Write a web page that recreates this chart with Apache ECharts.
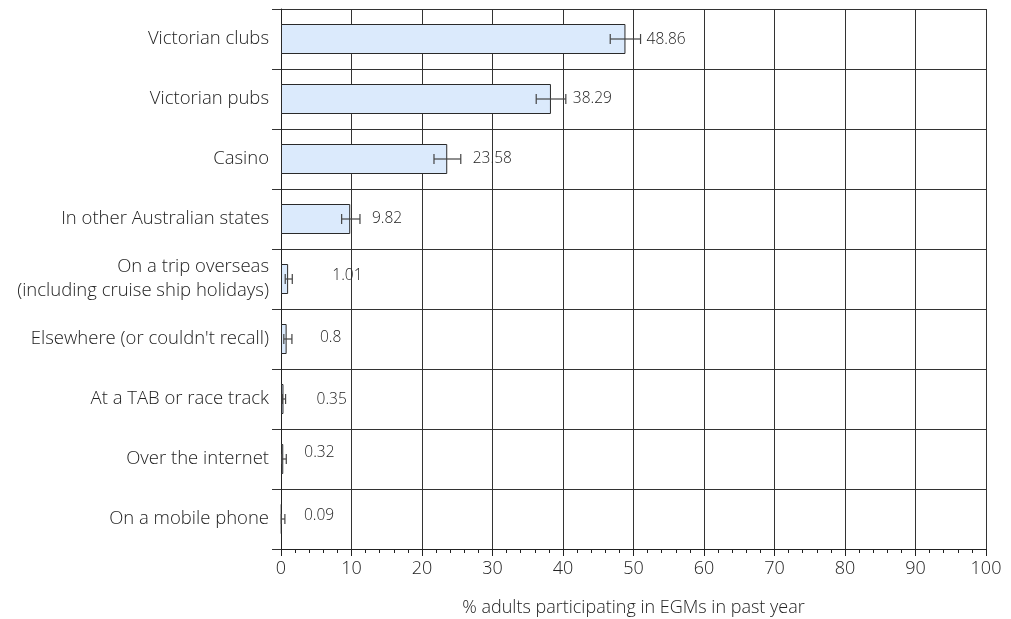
<!DOCTYPE html>
<html>
<head>
<meta charset="utf-8">
<script src="https://cdn.jsdelivr.net/npm/echarts@6/dist/echarts.min.js"></script>
<style>
  html, body { margin: 0; padding: 0; background: #fff; }
  #main { width: 1011px; height: 619px; }
</style>
</head>
<body>
<div id="main"></div>
<script>
var categories = [
  'Victorian clubs',
  'Victorian pubs',
  'Casino',
  'In other Australian states',
  'On a trip overseas\n(including cruise ship holidays)',
  "Elsewhere (or couldn't recall)",
  'At a TAB or race track',
  'Over the internet',
  'On a mobile phone'
];
var values = [48.86, 38.29, 23.58, 9.82, 1.01, 0.8, 0.35, 0.32, 0.09];
var errLow = [46.7, 36.2, 21.7, 8.6, 0.6, 0.4, 0.2, 0.1, 0.05];
var errHigh = [51.0, 40.4, 25.5, 11.2, 1.6, 1.55, 0.65, 0.75, 0.55];
var xTicks = [0, 100, 10];

// label nudges (px) so value labels sit where the original put them
var labelShift = [[6, 1], [7, 0], [12, 0], [12, 0], [40, -3], [28, -1], [31, 1], [18, -6], [19, -3]];

var FONT = 'Open Sans';
var chart = echarts.init(document.getElementById('main'));

var errData = [];
for (var i = 0; i < categories.length; i++) {
  errData.push([i, errLow[i], errHigh[i], values[i]]);
}

var option = {
  backgroundColor: '#fff',
  animation: false,
  grid: { left: 281, right: 25, top: 9, bottom: 70, outerBoundsMode: 'none', containLabel: false },
  xAxis: {
    type: 'value',
    min: xTicks[0],
    max: xTicks[1],
    interval: xTicks[2],
    name: '% adults participating in EGMs in past year',
    nameLocation: 'middle',
    nameGap: 50,
    nameTextStyle: { fontFamily: FONT, fontWeight: 300, fontSize: 18, color: '#222' },
    axisLine: { show: true, lineStyle: { color: '#222', width: 1 } },
    axisTick: { show: true, length: 7, lineStyle: { color: '#222' } },
    minorTick: { show: true, splitNumber: 5, length: 4, lineStyle: { color: '#222' } },
    axisLabel: { fontFamily: FONT, fontWeight: 300, fontSize: 18, color: '#222', margin: 11 },
    splitLine: { show: true, lineStyle: { color: '#333', width: 1 } }
  },
  yAxis: {
    type: 'category',
    inverse: true,
    data: categories,
    axisLine: { show: true, lineStyle: { color: '#222', width: 1 } },
    axisTick: { show: true, length: 9, lineStyle: { color: '#333' } },
    axisLabel: {
      fontFamily: FONT, fontWeight: 300, fontSize: 18.5, color: '#222',
      margin: 12, lineHeight: 24, align: 'right'
    },
    splitLine: { show: true, lineStyle: { color: '#333', width: 1 } }
  },
  series: [
    {
      type: 'bar',
      data: values,
      barWidth: 30,
      itemStyle: { color: '#dbeafc', borderColor: '#2a2a2a', borderWidth: 1 },
      z: 2
    },
    {
      type: 'custom',
      data: errData,
      z: 3,
      renderItem: function (params, api) {
        var idx = api.value(0);
        var lo = api.coord([api.value(1), idx]);
        var hi = api.coord([api.value(2), idx]);
        var y = lo[1];
        var cap = 5;
        var s = labelShift[params.dataIndex];
        var st = { stroke: '#444', lineWidth: 1.2 };
        return {
          type: 'group',
          children: [
            { type: 'line', shape: { x1: lo[0], y1: y, x2: hi[0], y2: y }, style: st },
            { type: 'line', shape: { x1: lo[0], y1: y - cap, x2: lo[0], y2: y + cap }, style: st },
            { type: 'line', shape: { x1: hi[0], y1: y - cap, x2: hi[0], y2: y + cap }, style: st },
            {
              type: 'text',
              x: hi[0] + s[0],
              y: y + s[1],
              style: {
                text: String(api.value(3)),
                fontFamily: FONT, fontWeight: 300, fontSize: 15.5, fill: '#222',
                verticalAlign: 'middle', align: 'left'
              }
            }
          ]
        };
      }
    }
  ]
};

chart.setOption(option);
</script>
</body>
</html>
